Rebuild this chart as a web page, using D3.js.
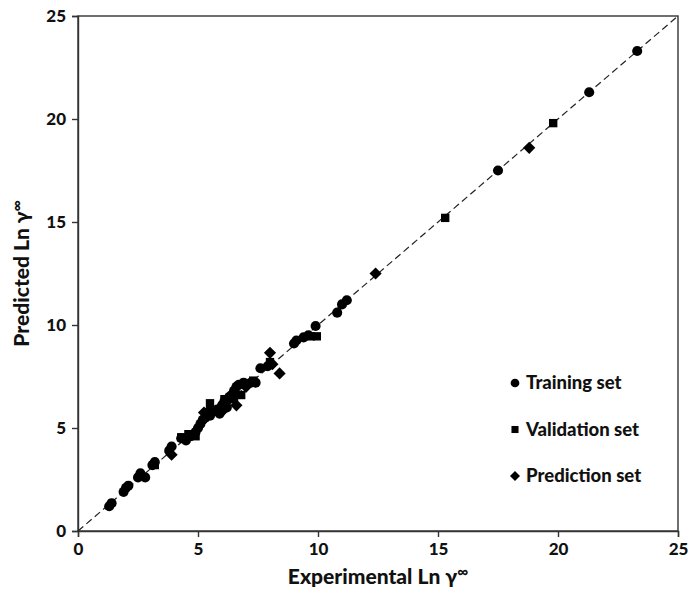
<!DOCTYPE html>
<html>
<head>
<meta charset="utf-8">
<script src="https://cdn.jsdelivr.net/npm/d3@7"></script>
<style>
  body { margin: 0; background: #fff; }
  text { font-family: Lato, "Open Sans", sans-serif; font-weight: 900; fill: #111; }
</style>
</head>
<body>
<div id="chart"></div>
<script>
// Experimental vs predicted values [x, y]
const trainingSet = [
    [1.3, 1.2], [1.4, 1.35], [1.9, 1.9], [2.0, 2.1], [2.1, 2.2], [2.5, 2.6], [2.6, 2.8], [2.8, 2.6],
    [3.1, 3.2], [3.2, 3.35], [3.8, 3.9], [3.9, 4.1], [4.3, 4.5], [4.5, 4.4], [4.7, 4.6], [4.9, 4.8],
    [5.0, 5.0], [5.1, 5.2], [5.2, 5.4], [5.3, 5.5], [5.5, 5.6], [5.6, 5.8], [5.8, 5.9], [5.9, 5.7],
    [6.0, 6.1], [6.1, 6.3], [6.2, 6.0], [6.3, 6.5], [6.4, 6.6], [6.5, 6.8], [6.6, 7.0], [6.7, 7.1],
    [6.9, 7.2], [7.0, 7.1], [7.2, 7.2], [7.4, 7.2], [7.6, 7.9], [7.9, 8.0], [9.0, 9.1], [9.1, 9.25],
    [9.4, 9.4], [9.6, 9.5], [9.9, 9.95], [10.8, 10.6], [11.0, 11.0], [11.2, 11.2],
    [17.5, 17.5], [21.3, 21.3], [23.3, 23.3]
];
const validationSet = [
    [3.2, 3.2], [4.3, 4.55], [4.6, 4.7], [4.9, 4.6], [5.5, 6.2], [5.7, 5.8], [6.1, 6.4], [6.5, 6.4],
    [6.8, 6.6], [7.3, 7.3], [8.0, 8.2], [9.7, 9.45], [9.95, 9.45], [15.3, 15.2], [19.8, 19.8]
];
const predictionSet = [
    [3.9, 3.7], [4.8, 4.7], [5.25, 5.75], [5.5, 5.9], [6.0, 5.8], [6.3, 6.4], [6.6, 6.1], [7.0, 7.0],
    [8.0, 8.65], [8.1, 8.1], [8.4, 7.65], [12.4, 12.5], [18.8, 18.6]
];
const tickValues = [0, 5, 10, 15, 20, 25];
const legendLabels = ["Training set", "Validation set", "Prediction set"];

const width = 691;
const height = 594;
const margin = {top: 16, right: 13, bottom: 63, left: 78};

const svg = d3.select("#chart")
    .append("svg")
    .attr("width", width)
    .attr("height", height);

const x = d3.scaleLinear()
    .domain([0, 25])
    .range([margin.left, width - margin.right]);

const y = d3.scaleLinear()
    .domain([0, 25])
    .range([height - margin.bottom, margin.top]);

// Frame (top and right)
svg.append("rect")
    .attr("x", x(0))
    .attr("y", y(25))
    .attr("width", x(25) - x(0))
    .attr("height", y(0) - y(25))
    .attr("fill", "none")
    .attr("stroke", "#333")
    .attr("stroke-width", 1.4);

// Axis X
const xAxis = svg.append("g")
    .attr("transform", `translate(0,${y(0)})`)
    .call(d3.axisBottom(x).tickValues(tickValues).tickSize(6).tickPadding(6));

// Axis Y
const yAxis = svg.append("g")
    .attr("transform", `translate(${x(0)},0)`)
    .call(d3.axisLeft(y).tickValues(tickValues).tickSize(6).tickPadding(6));

[xAxis, yAxis].forEach(g => {
    g.select(".domain").attr("stroke", "#333").attr("stroke-width", 1.4);
    g.selectAll(".tick line").attr("stroke", "#333").attr("stroke-width", 1.4);
    g.selectAll("text")
        .style("font-family", "Lato, 'Open Sans', sans-serif")
        .style("font-weight", "900")
        .style("font-size", "17px")
        .attr("fill", "#111");
});

// 1:1 line
svg.append("line")
    .attr("x1", x(0))
    .attr("y1", y(0))
    .attr("x2", x(25))
    .attr("y2", y(25))
    .attr("stroke", "#222")
    .attr("stroke-width", 1.2)
    .attr("stroke-dasharray", "7,4");

const circle = d3.symbol().type(d3.symbolCircle).size(80);
const square = d3.symbol().type(d3.symbolSquare).size(70);
const diamond = d3.symbol().type(d3.symbolSquare).size(74);

function drawSet(data, sym, rot) {
    svg.append("g")
        .selectAll("path")
        .data(data)
        .enter()
        .append("path")
        .attr("transform", d => `translate(${x(d[0])},${y(d[1])}) rotate(${rot})`)
        .attr("d", sym)
        .attr("fill", "#000");
}

drawSet(trainingSet, circle, 0);
drawSet(validationSet, square, 0);
drawSet(predictionSet, diamond, 45);

// Legend
const legend = svg.append("g")
    .attr("transform", `translate(515, 383)`);

const legendSymbols = [
    d3.symbol().type(d3.symbolCircle).size(60),
    d3.symbol().type(d3.symbolSquare).size(50),
    d3.symbol().type(d3.symbolSquare).size(50)
];

legendLabels.forEach((label, i) => {
    legend.append("path")
        .attr("transform", `translate(0,${i * 46.5}) rotate(${i === 2 ? 45 : 0})`)
        .attr("d", legendSymbols[i])
        .attr("fill", "#000");
    legend.append("text")
        .attr("x", 11)
        .attr("y", i * 46.5 + 6)
        .style("font-size", "18.5px")
        .text(label);
});

// Labels
const xLabel = svg.append("text")
    .attr("x", (x(0) + x(25)) / 2)
    .attr("y", 584)
    .attr("text-anchor", "middle")
    .style("font-size", "21px");
xLabel.append("tspan").text("Experimental Ln γ");
xLabel.append("tspan").attr("dy", -7).style("font-size", "15px").text("∞");

const yLabel = svg.append("text")
    .attr("transform", "rotate(-90)")
    .attr("x", -(y(0) + y(25)) / 2)
    .attr("y", 29)
    .attr("text-anchor", "middle")
    .style("font-size", "21px");
yLabel.append("tspan").text("Predicted Ln γ");
yLabel.append("tspan").attr("dy", -7).style("font-size", "15px").text("∞");
</script>
</body>
</html>
